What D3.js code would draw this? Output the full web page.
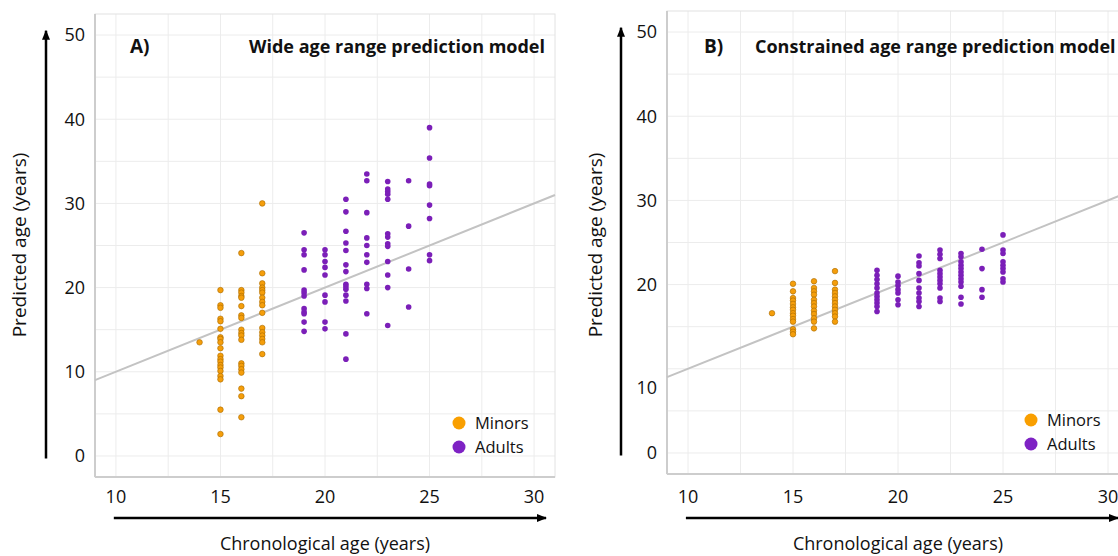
<!DOCTYPE html>
<html>
<head>
<meta charset="utf-8">
<script src="https://cdn.jsdelivr.net/npm/d3@7"></script>
<style>
  body { margin: 0; background: #fff; }
  text { font-family: "Open Sans", "Noto Sans", sans-serif; fill: #111; }
</style>
</head>
<body>
<div id="chart"></div>
<script>
// tick values shared by both panels
let x_ticks = [10, 15, 20, 25, 30];
let y_ticks = [0, 10, 20, 30, 40, 50];
let legend_labels = ['Minors', 'Adults'];

// panel A: wide age range model, predicted ages per chronological age
let a_minor_ages = [14, 15, 16, 17];
let a_minor_pred = [
  [13.5],
  [19.7, 17.9, 17.6, 16.3, 16.0, 15.1, 14.1, 13.9, 13.5, 12.8, 11.9, 11.5, 11.2, 10.8, 10.5, 10.1, 9.5, 9.1, 5.5, 2.6],
  [24.1, 19.7, 19.4, 19.0, 18.8, 17.8, 16.7, 16.4, 15.0, 14.6, 14.3, 13.8, 11.0, 10.7, 10.3, 9.9, 8.0, 7.1, 4.6],
  [30.0, 21.7, 20.5, 20.0, 19.7, 19.4, 18.8, 18.3, 17.9, 17.0, 15.2, 14.7, 14.3, 13.9, 13.5, 12.1]
];
let a_adult_ages = [19, 20, 21, 22, 23, 24, 25];
let a_adult_pred = [
  [26.5, 24.5, 23.9, 22.1, 19.7, 19.4, 19.0, 17.5, 17.1, 16.9, 15.9, 14.8],
  [24.5, 23.9, 23.1, 22.4, 21.5, 19.1, 18.3, 15.9, 15.1],
  [30.5, 29.0, 26.7, 25.3, 24.4, 22.7, 21.9, 20.4, 20.1, 19.8, 19.1, 18.4, 14.5, 11.5],
  [33.5, 32.7, 28.9, 25.9, 25.0, 23.9, 23.0, 20.4, 19.9, 16.9],
  [32.6, 31.7, 31.4, 31.1, 30.5, 26.4, 26.0, 25.2, 24.9, 23.1, 21.5, 20.0, 15.5],
  [32.7, 27.3, 22.2, 17.7],
  [39.0, 35.4, 32.3, 32.1, 29.8, 28.2, 23.9, 23.2]
];

// panel B: constrained age range model
let b_minor_ages = [14, 15, 16, 17];
let b_minor_pred = [
  [16.6],
  [20.1, 19.2, 18.4, 18.1, 17.7, 17.3, 17.0, 16.6, 16.3, 15.9, 15.6, 14.7, 14.4, 14.1],
  [20.4, 19.6, 19.2, 18.8, 18.2, 17.8, 17.4, 16.9, 16.5, 16.0, 15.6, 14.8],
  [21.6, 20.2, 19.4, 19.0, 18.6, 18.2, 17.8, 17.4, 17.0, 16.6, 16.2, 15.6]
];
let b_adult_ages = [19, 20, 21, 22, 23, 24, 25];
let b_adult_pred = [
  [21.7, 21.1, 20.6, 20.1, 19.6, 19.0, 18.6, 18.2, 17.8, 17.4, 16.8],
  [21.0, 20.3, 19.9, 19.4, 19.0, 18.2, 17.6],
  [23.4, 22.6, 22.2, 21.3, 20.5, 19.6, 19.0, 18.4, 18.0, 17.4],
  [24.1, 23.6, 23.1, 21.7, 21.3, 20.9, 20.5, 20.1, 19.6, 18.4, 18.0],
  [23.7, 23.3, 22.7, 22.3, 21.9, 21.5, 21.1, 20.7, 20.3, 19.8, 18.5, 17.7],
  [24.2, 21.9, 19.4, 18.5],
  [25.9, 24.1, 23.7, 22.7, 22.3, 21.9, 21.5, 20.7, 20.3]
];

let svg_width = 1118;
let svg_height = 556;

let minor_fill = '#f59e0b';
let minor_stroke = '#a86a00';
let adult_fill = '#7b1fb8';

let svg = d3.select('#chart')
            .append('svg')
            .attr('width', svg_width)
            .attr('height', svg_height);

// arrowhead marker for the hand drawn axis arrows
svg.append('defs').append('marker')
   .attr('id', 'arrow')
   .attr('viewBox', '0 0 10 10')
   .attr('refX', 9).attr('refY', 5)
   .attr('markerWidth', 4).attr('markerHeight', 4)
   .attr('orient', 'auto')
   .append('path')
   .attr('d', 'M0,1 L10,5 L0,9 z')
   .attr('fill', '#000');

function flatten(ages, preds){
    let out = [];
    ages.forEach(function(a, i){
        preds[i].forEach(function(p){ out.push({x: a, y: p}); });
    });
    return out;
}

function drawPanel(cfg){
    let x = d3.scaleLinear().domain([9, 31]).range(cfg.xr);
    let y = d3.scaleLinear().domain([-2.5, 52.5]).range(cfg.yr);
    let g = svg.append('g');

    // grid
    g.selectAll('.vgrid')
     .data(d3.range(10, 31, 2.5))
     .enter().append('line')
     .attr('x1', d => x(d)).attr('x2', d => x(d))
     .attr('y1', cfg.yr[1]).attr('y2', cfg.yr[0])
     .attr('stroke', '#ececec').attr('stroke-width', 1);
    g.selectAll('.hgrid')
     .data(d3.range(0, 51, 5))
     .enter().append('line')
     .attr('x1', cfg.xr[0]).attr('x2', cfg.xr[1])
     .attr('y1', d => y(d)).attr('y2', d => y(d))
     .attr('stroke', '#ececec').attr('stroke-width', 1);

    // frame: light top/right, darker left/bottom
    g.append('rect')
     .attr('x', cfg.xr[0]).attr('y', cfg.yr[1])
     .attr('width', cfg.xr[1] - cfg.xr[0]).attr('height', cfg.yr[0] - cfg.yr[1])
     .attr('fill', 'none').attr('stroke', '#e2e2e2');
    g.append('line')
     .attr('x1', cfg.xr[0]).attr('x2', cfg.xr[0])
     .attr('y1', cfg.yr[1]).attr('y2', cfg.yr[0])
     .attr('stroke', '#cdcdcd').attr('stroke-width', 2);
    g.append('line')
     .attr('x1', cfg.xr[0]).attr('x2', cfg.xr[1])
     .attr('y1', cfg.yr[0]).attr('y2', cfg.yr[0])
     .attr('stroke', '#cdcdcd').attr('stroke-width', 2);

    // identity line
    g.append('line')
     .attr('x1', x(9)).attr('y1', y(9))
     .attr('x2', x(31)).attr('y2', y(31))
     .attr('stroke', '#c3c3c3').attr('stroke-width', 2);

    // points
    g.selectAll('.minor')
     .data(flatten(cfg.minor_ages, cfg.minor_pred))
     .enter().append('circle')
     .attr('cx', d => x(d.x)).attr('cy', d => y(d.y))
     .attr('r', 2.8)
     .attr('fill', minor_fill).attr('stroke', minor_stroke).attr('stroke-width', 0.6);
    g.selectAll('.adult')
     .data(flatten(cfg.adult_ages, cfg.adult_pred))
     .enter().append('circle')
     .attr('cx', d => x(d.x)).attr('cy', d => y(d.y))
     .attr('r', 2.8)
     .attr('fill', adult_fill);

    // tick labels
    g.selectAll('.xt')
     .data(x_ticks)
     .enter().append('text')
     .attr('x', d => x(d)).attr('y', 497)
     .attr('dy', '0.35em')
     .attr('text-anchor', 'middle')
     .attr('font-size', 18)
     .text(d => d);
    g.selectAll('.yt')
     .data(y_ticks)
     .enter().append('text')
     .attr('x', cfg.xr[0] - 10)
     .attr('y', d => y(d) + (cfg.nudge[d] || 0))
     .attr('dy', '0.35em')
     .attr('text-anchor', 'end')
     .attr('font-size', 18)
     .text(d => d);

    // arrows
    g.append('line')
     .attr('x1', cfg.arrow_x).attr('x2', cfg.arrow_x)
     .attr('y1', y(-0.3)).attr('y2', y(50.5))
     .attr('stroke', '#000').attr('stroke-width', 2.5)
     .attr('marker-end', 'url(#arrow)');
    g.append('line')
     .attr('x1', x(9.9)).attr('x2', cfg.arrow_end)
     .attr('y1', 518).attr('y2', 518)
     .attr('stroke', '#000').attr('stroke-width', 2.5)
     .attr('marker-end', 'url(#arrow)');

    // axis titles
    g.append('text')
     .attr('transform', 'translate(' + cfg.ytitle_x + ',' + 245 + ') rotate(-90)')
     .attr('text-anchor', 'middle')
     .attr('font-size', 19)
     .text('Predicted age (years)');
    g.append('text')
     .attr('x', x(20)).attr('y', 550)
     .attr('text-anchor', 'middle')
     .attr('font-size', 18)
     .text('Chronological age (years)');

    // panel letter and title
    g.append('text')
     .attr('x', cfg.letter_x).attr('y', 53)
     .attr('font-size', 19).attr('font-weight', 'bold')
     .text(cfg.letter);
    g.append('text')
     .attr('x', cfg.title_x).attr('y', 53)
     .attr('text-anchor', cfg.title_anchor)
     .attr('font-size', 18).attr('font-weight', 'bold')
     .text(cfg.title);

    // legend
    let leg = g.selectAll('.leg')
               .data(legend_labels)
               .enter().append('g')
               .attr('transform', (d, i) => 'translate(' + cfg.legend_x + ',' + (cfg.legend_y + i * 24) + ')');
    leg.append('circle')
       .attr('r', 6.5)
       .attr('fill', (d, i) => i === 0 ? '#f99f00' : '#7e22c4');
    leg.append('text')
       .attr('x', 16).attr('dy', '0.35em')
       .attr('font-size', 16.5)
       .text(d => d);
}

drawPanel({
    xr: [95, 555], yr: [477, 14],
    minor_ages: a_minor_ages, minor_pred: a_minor_pred,
    adult_ages: a_adult_ages, adult_pred: a_adult_pred,
    nudge: {},
    arrow_x: 46, arrow_end: 546, ytitle_x: 26,
    letter: 'A)', letter_x: 130,
    title: 'Wide age range prediction model', title_x: 545, title_anchor: 'end',
    legend_x: 459, legend_y: 423
});

drawPanel({
    xr: [667, 1129], yr: [474, 11],
    minor_ages: b_minor_ages, minor_pred: b_minor_pred,
    adult_ages: b_adult_ages, adult_pred: b_adult_pred,
    nudge: {10: 19},   // the "10" label sits lower than its gridline in the original
    arrow_x: 621, arrow_end: 1118, ytitle_x: 602,
    letter: 'B)', letter_x: 704,
    title: 'Constrained age range prediction model', title_x: 755, title_anchor: 'start',
    legend_x: 1031, legend_y: 420
});
</script>
</body>
</html>
